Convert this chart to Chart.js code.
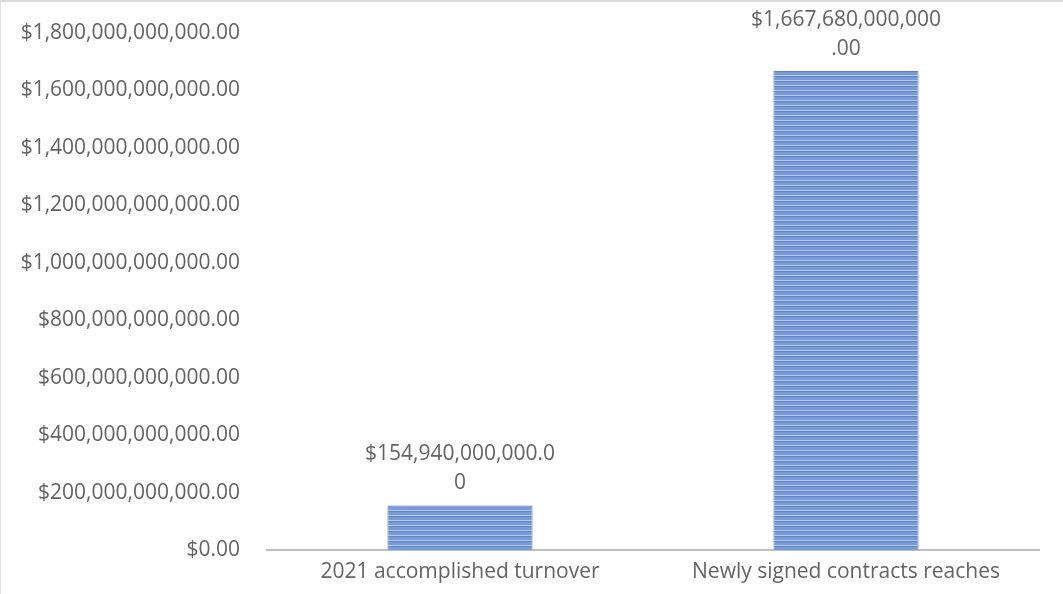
<!DOCTYPE html>
<html>
<head>
<meta charset="utf-8">
<script src="https://cdn.jsdelivr.net/npm/chart.js@4"></script>
<style>
  html, body { margin: 0; padding: 0; background: #fff; }
  .wrap { position: relative; width: 1063px; height: 594px; box-sizing: border-box; border-top: 2px solid #dcdcdc; border-left: 1px solid #e4e4e4; }
  canvas { display: block; }
</style>
</head>
<body>
<div class="wrap"><canvas id="chart" width="1062" height="592"></canvas></div>
<script>
const categories = ['2021 accomplished turnover', 'Newly signed contracts reaches'];
const values = [154940000000, 1667680000000];
const yTicksMax = 1800000000000;
const yTicksStep = 200000000000;

function money(v) {
  return '$' + v.toLocaleString('en-US', { minimumFractionDigits: 2, maximumFractionDigits: 2 });
}

// striped fill like the excel bars
function stripes() {
  const c = document.createElement('canvas');
  c.width = 4; c.height = 5;
  const g = c.getContext('2d');
  g.fillStyle = '#789ad6'; g.fillRect(0, 0, 4, 5);
  g.fillStyle = '#b4c8ec'; g.fillRect(0, 3, 4, 1);
  g.fillStyle = '#6284c6'; g.fillRect(0, 4, 4, 1);
  return g.createPattern(c, 'repeat');
}

const fontFam = '"Open Sans", sans-serif';
const txt = '#636363';

// value labels above bars, wrapped the way excel did it
const barLabels = {
  id: 'barLabels',
  afterDatasetsDraw(chart) {
    const ctx = chart.ctx;
    const meta = chart.getDatasetMeta(0);
    ctx.save();
    ctx.font = '21px ' + fontFam;
    ctx.fillStyle = txt;
    ctx.textAlign = 'center';
    ctx.textBaseline = 'middle';
    meta.data.forEach((bar, i) => {
      const s = money(values[i]);
      const lines = [s.slice(0, 18), s.slice(18)];
      const lh = 29;
      lines.forEach((ln, j) => {
        ctx.fillText(ln, bar.x, bar.y - 22 - (lines.length - 1 - j) * lh);
      });
    });
    ctx.restore();
  }
};

new Chart(document.getElementById('chart'), {
  type: 'bar',
  data: {
    labels: categories,
    datasets: [{
      data: values,
      backgroundColor: stripes(),
      borderColor: '#5b7fc2',
      borderWidth: 1,
      categoryPercentage: 1,
      barPercentage: 0.376
    }]
  },
  options: {
    responsive: false,
    animation: false,
    layout: { padding: { top: 31, right: 24, bottom: 0, left: 0 } },
    plugins: { legend: { display: false }, tooltip: { enabled: false } },
    scales: {
      x: {
        grid: { display: false, drawTicks: false },
        border: { color: '#bfbfbf', width: 2 },
        ticks: { color: txt, font: { family: fontFam, size: 21 }, padding: 9 },
        afterFit(s) { s.height = 44; s.paddingLeft = 0; s.paddingRight = 0; }
      },
      y: {
        min: 0,
        max: yTicksMax,
        grid: { display: false, drawTicks: false },
        border: { display: false },
        ticks: {
          stepSize: yTicksStep,
          color: txt,
          font: { family: fontFam, size: 21 },
          padding: 27,
          callback: v => money(v)
        },
        afterFit(s) { s.width = 266; s.paddingTop = 0; s.paddingBottom = 0; }
      }
    }
  },
  plugins: [barLabels]
});
</script>
</body>
</html>
